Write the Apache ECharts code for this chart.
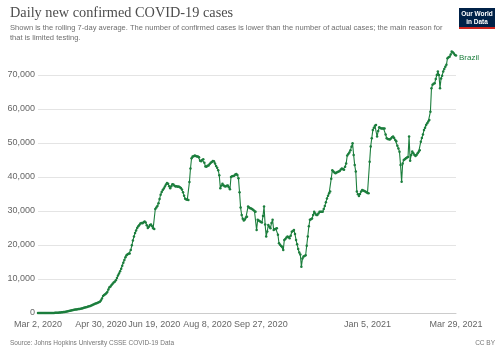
<!DOCTYPE html>
<html>
<head>
<meta charset="utf-8">
<script src="https://cdn.jsdelivr.net/npm/echarts@6/dist/echarts.min.js"></script>
<style>
html,body{margin:0;padding:0;background:#fff;}
#chart{width:504px;height:356px;}
</style>
</head>
<body>
<div id="chart"></div>
<script>
// ---- Data (daily rolling 7-day average, Brazil), starting Mar 2, 2020 ----
var startDate = '2020-03-02';
var seriesName = 'Brazil';
var brazilCases = [
0,0,0,0,0,0,1,2,3,4,
5,7,10,15,20,30,40,55,70,90,
120,150,190,230,280,330,390,450,520,600,
680,750,820,880,940,1000,1060,1110,1160,1210,
1280,1350,1430,1520,1600,1700,1790,1880,1960,2050,
2180,2330,2500,2640,2780,2900,3030,3180,3300,3700,
4300,5000,5300,5550,5800,6200,6900,7600,7800,8200,
8600,9000,9200,9600,10300,11000,11600,12300,13000,13900,
14800,15600,16400,17000,17300,17400,17500,18500,19900,21300,
22500,23500,24300,25000,25500,25900,26300,26500,26400,26700,
26900,26600,25800,25000,25400,25900,26000,25500,24900,24700,
30600,31000,31500,32300,33500,34800,35600,36200,36600,37200,
37800,38200,38000,37300,36700,37300,37900,37800,37400,37200,
37300,37100,37200,37000,36800,36300,35500,34500,33600,33400,
33300,33200,38500,42500,45500,46000,46100,46300,46200,46000,
46000,45800,44800,44600,45000,45200,44200,43100,43000,43300,
43400,43800,44200,44400,44700,44600,44000,43200,42700,42000,
40500,36700,37500,38000,37600,37300,37200,37400,37500,37000,
36400,40000,40200,40300,40400,40700,40900,40600,39600,35500,
31000,28800,27700,27200,27500,28100,28300,31300,31000,30800,
30700,30500,30300,30000,29800,24400,27400,27200,27000,26800,
26600,28500,31300,26000,22500,24000,25900,25400,24900,26500,
27400,24400,24600,24800,24900,23000,20500,20100,19700,19500,
18500,21500,21800,22200,22500,22300,22000,22700,23900,24100,
24400,23200,21500,20200,18800,17800,17200,13600,16000,16600,
16800,17000,19800,22500,25500,27400,27600,27800,28800,29800,
29300,28800,28800,29300,29800,29800,29800,29800,30600,31500,
32600,33700,34500,35200,35700,39500,42000,41600,41300,41100,
41300,41500,41600,41800,42200,42500,42300,42100,43000,44000,
46300,46800,47200,47900,48900,49900,46500,43500,41600,35700,
34900,34400,35000,35700,36200,36000,35900,35700,35500,35300,
35200,44500,49000,51400,53800,54500,55100,55300,51900,53500,
54600,54400,54300,54300,54300,54300,52500,51400,51200,51100,
51000,51300,51700,51900,51500,50900,50500,49200,48400,47400,
43500,38600,44000,45000,45200,45500,45700,45900,51900,44800,
46500,47500,47000,46500,46200,46500,47000,47400,47900,50400,
51500,52500,53800,54500,55300,55800,56300,56800,59200,66100,
67100,67400,67600,68800,70000,71000,70000,66100,69000,69800,
71000,71800,72400,73000,74900,75200,75400,76000,76900,76700,
76300,75900,75700
];
var xTickDates = ['2020-03-02','2020-04-30','2020-06-19','2020-08-08','2020-09-27','2021-01-05','2021-03-29'];
var xTickLabels = ['Mar 2, 2020','Apr 30, 2020','Jun 19, 2020','Aug 8, 2020','Sep 27, 2020','Jan 5, 2021','Mar 29, 2021'];
var yTickValues = [0,10000,20000,30000,40000,50000,60000,70000];

var titleText = 'Daily new confirmed COVID-19 cases';
var subtitleLines = ['Shown is the rolling 7-day average. The number of confirmed cases is lower than the number of actual cases; the main reason for','that is limited testing.'];
var sourceText = 'Source: Johns Hopkins University CSSE COVID-19 Data';
var licenseText = 'CC BY';

// ---- Build ----
function dayOffset(s){
  var p = s.split('-').map(Number), q = startDate.split('-').map(Number);
  return Math.round((Date.UTC(p[0],p[1]-1,p[2]) - Date.UTC(q[0],q[1]-1,q[2]))/86400000);
}
var xTickDays = xTickDates.map(dayOffset);
var labelByDay = {};
xTickDays.forEach(function(d,i){ labelByDay[d] = xTickLabels[i]; });
var seriesData = brazilCases.map(function(v,i){ return [i, v]; });
var lastDay = brazilCases.length - 1;

var lineColor = '#1c7e3d';
var chart = echarts.init(document.getElementById('chart'), null, {renderer:'canvas'});
chart.setOption({
  animation:false,
  backgroundColor:'#fff',
  grid:{left:38, right:48, top:47.8, bottom:43, containLabel:false},
  xAxis:{
    type:'value', min:0, max:lastDay,
    axisLine:{show:true, lineStyle:{color:'#cccccc', width:1}},
    axisTick:{show:false},
    splitLine:{show:false},
    axisLabel:{
      customValues:xTickDays,
      formatter:function(v){ return labelByDay[Math.round(v)] || ''; },
      color:'#666', fontSize:9, fontFamily:'Liberation Sans, Arial, sans-serif', margin:7,
      showMinLabel:true, showMaxLabel:true, hideOverlap:false
    }
  },
  yAxis:{
    type:'value', min:0, max:78000, interval:10000,
    axisLine:{show:false}, axisTick:{show:false},
    splitLine:{show:true, showMaxLine:false, lineStyle:{color:'#e4e4e4', width:1}},
    axisLabel:{
      showMaxLabel:false,
      formatter:function(v){ return yTickValues.indexOf(v) >= 0 ? v.toLocaleString('en-US') : ''; },
      color:'#666', fontSize:9, fontFamily:'Liberation Sans, Arial, sans-serif', margin:3
    }
  },
  series:[{
    name:seriesName, type:'line', data:seriesData,
    showSymbol:true, showAllSymbol:true, symbol:'circle', symbolSize:2.5,
    itemStyle:{color:lineColor},
    lineStyle:{color:lineColor, width:1.1},
    endLabel:{show:true, formatter:seriesName, color:lineColor, fontSize:8, fontFamily:'Liberation Sans, Arial, sans-serif', distance:3, offset:[0,2]},
    emphasis:{disabled:true}
  }],
  graphic:[
    {type:'text', left:10, top:6, style:{text:titleText, fill:'#4d4d4d', font:'14.3px "Liberation Serif", "Times New Roman", serif'}},
    {type:'text', left:10, top:24, style:{text:subtitleLines[0], fill:'#6e6e6e', font:'7.55px "Liberation Sans", Arial, sans-serif'}},
    {type:'text', left:10, top:34, style:{text:subtitleLines[1], fill:'#6e6e6e', font:'7.55px "Liberation Sans", Arial, sans-serif'}},
    {type:'rect', shape:{x:459, y:8, width:36, height:21}, style:{fill:'#002147'}},
    {type:'rect', shape:{x:459, y:27, width:36, height:2}, style:{fill:'#ce261e'}},
    {type:'text', x:477, y:14.5, style:{text:'Our World', fill:'#fff', font:'bold 6.5px "Liberation Sans", Arial, sans-serif', align:'center', verticalAlign:'middle'}},
    {type:'text', x:477, y:22, style:{text:'in Data', fill:'#fff', font:'bold 6.5px "Liberation Sans", Arial, sans-serif', align:'center', verticalAlign:'middle'}},
    {type:'text', left:10, top:340, style:{text:sourceText, fill:'#777', font:'6.5px "Liberation Sans", Arial, sans-serif'}},
    {type:'text', right:9, top:340, style:{text:licenseText, fill:'#777', font:'6.5px "Liberation Sans", Arial, sans-serif'}}
  ]
});
</script>
</body>
</html>
